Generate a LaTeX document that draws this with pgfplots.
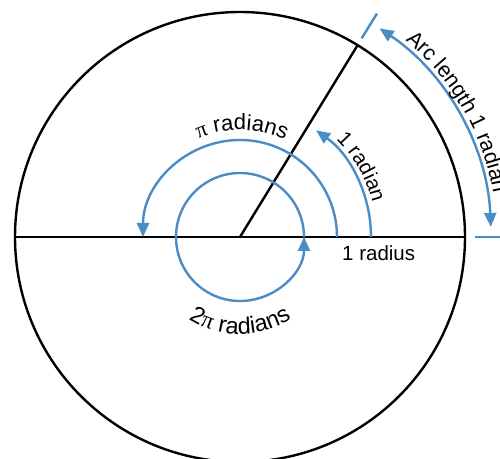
\documentclass[border=0pt]{standalone}
\usepackage{pgfplots}
\pgfplotsset{compat=1.18}
\usepackage{fontspec}
\setmainfont{Liberation Sans}
\newfontfamily\pifont{Liberation Serif}
\usetikzlibrary{arrows.meta,decorations.text}
\definecolor{arcblue}{RGB}{74,140,197}
\begin{document}
\begin{tikzpicture}
\fontsize{20.5}{24}\selectfont
\begin{axis}[x=1pt,y=1pt,xmin=-240,xmax=260,ymin=-221,ymax=237,hide axis,clip=true]
% big circle and radii
\draw[black,line width=2.4pt] (axis cs:0,0) circle[radius=225pt];
\addplot[black,line width=2.4pt] coordinates {(-225,0) (225,0)};
\addplot[black,line width=2.4pt] coordinates {(0,0) (117.6,191.8)};
% ticks
\addplot[arcblue,line width=2.4pt] coordinates {(235,0) (265,0)};
\addplot[arcblue,line width=2.4pt] coordinates {(121.7,198.7) (136.9,223.4)};
% arcs
\draw[arcblue,line width=2.4pt,-{Triangle[length=14pt,width=12pt]}] (axis cs:131,0) arc[start angle=0,end angle=54.5,radius=131pt];
\draw[arcblue,line width=2.4pt,-{Triangle[length=14pt,width=12pt]}] (axis cs:97,0) arc[start angle=0,end angle=180,radius=97pt];
\draw[arcblue,line width=2.4pt,-{Triangle[length=14pt,width=12pt]}] (axis cs:64,0) arc[start angle=0,end angle=360,radius=64pt];
\draw[arcblue,line width=2.4pt,{Triangle[length=14pt,width=12pt]}-{Triangle[length=14pt,width=12pt]}] (axis cs:250.8,10.07) arc[start angle=2.3,end angle=56.2,radius=251pt];
% labels
\node[anchor=base west,inner sep=0pt] at (axis cs:102,-24) {1 radius};
\path[decorate,decoration={text along path,text={|\fontsize{22}{26}\selectfont\pifont|π|\fontsize{22}{26}\selectfont\normalfont| radians},text align=center}] (axis cs:-83.15,67.34) arc[start angle=141,end angle=37,radius=107pt];
\path[decorate,decoration={text along path,text={|\fontsize{23.5}{28}\selectfont|2|\fontsize{23.5}{28}\selectfont\pifont|π|\fontsize{23.5}{28}\selectfont\normalfont| radians},text align=center}] (axis cs:-91.15,-33.17) arc[start angle=200,end angle=340,radius=97pt];
\path[decorate,decoration={text along path,text={1 radian},text align=center}] (axis cs:68.5,118.65) arc[start angle=60,end angle=0,radius=137pt];
\path[decorate,decoration={text along path,text={|\fontsize{21.5}{25}\selectfont|Arc length 1 radian},text align=left}] (axis cs:165.2,196.9) arc[start angle=50,end angle=-5,radius=257pt];
\end{axis}
\pgfresetboundingbox
\path (current axis.south west) rectangle (current axis.north east);
\end{tikzpicture}
\end{document}
